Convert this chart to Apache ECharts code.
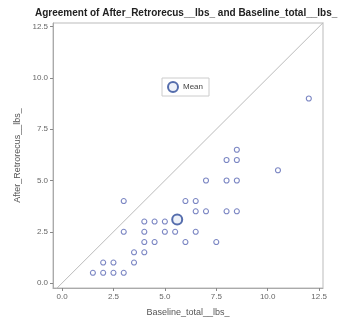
<!DOCTYPE html>
<html>
<head>
<meta charset="utf-8">
<script src="https://cdn.jsdelivr.net/npm/echarts@6/dist/echarts.min.js"></script>
<style>
  html, body { margin: 0; padding: 0; background: #fff; }
  #chart { width: 345px; height: 324px; }
</style>
</head>
<body>
<div id="chart"></div>
<script>
// baseline vs after values (lbs)
var baseline = [1.5, 2, 2.5, 3, 2, 2.5, 3.5, 3.5, 4, 4, 4.5, 6, 7.5, 3, 4, 5, 5.5, 6.5,
  4, 4.5, 5, 6.5, 7, 8, 8.5, 3, 6, 6.5, 7, 8, 8.5, 8, 8.5, 8.5, 10.5, 12];
var after = [0.5, 0.5, 0.5, 0.5, 1, 1, 1, 1.5, 1.5, 2, 2, 2, 2, 2.5, 2.5, 2.5, 2.5, 2.5,
  3, 3, 3, 3.5, 3.5, 3.5, 3.5, 4, 4, 4, 5, 5, 5, 6, 6, 6.5, 5.5, 9];
var meanPoint = [5.6, 3.1];
var tickValues = [0, 2.5, 5, 7.5, 10, 12.5];
var diagEnds = [-1, 14];

var points = baseline.map(function (b, i) {
  return [b, after[i]];
});

var chart = echarts.init(document.getElementById("chart"));

function axisOpt(name, min, max, isY) {
  return {
    type: "value",
    name: name,
    nameLocation: "middle",
    nameGap: isY ? 29 : 20,
    nameTextStyle: { color: "#555", fontSize: 9, fontFamily: "Liberation Sans" },
    min: min,
    max: max,
    splitLine: { show: false },
    axisLine: { show: true, onZero: false, lineStyle: { color: "#aaa" } },
    axisTick: {
      show: true,
      length: 3,
      customValues: tickValues,
      lineStyle: { color: "#888" }
    },
    axisLabel: {
      color: "#666",
      fontSize: 8,
      fontFamily: "Liberation Sans",
      margin: 5,
      customValues: tickValues,
      formatter: function (v) {
        return v.toFixed(1);
      }
    }
  };
}

var option = {
  backgroundColor: "#fff",
  animation: false,
  title: {
    text: "Agreement of After_Retrorecus__lbs_ and Baseline_total__lbs_",
    left: 30,
    top: 3,
    textStyle: { color: "#222", fontSize: 10, fontWeight: "bold", fontFamily: "Liberation Sans" }
  },
  legend: {
    data: [{ name: "Mean", icon: "circle" }],
    left: 162,
    top: 78,
    padding: [3, 6, 3, 5],
    itemWidth: 10,
    itemHeight: 10,
    itemGap: 4,
    borderColor: "#ccc",
    borderWidth: 1,
    textStyle: { color: "#444", fontSize: 8, fontFamily: "Liberation Sans" }
  },
  grid: {
    left: 53,
    right: 22,
    top: 23,
    bottom: 36,
    show: true,
    borderColor: "#bbb",
    borderWidth: 1
  },
  xAxis: axisOpt("Baseline_total__lbs_", -0.44, 12.69, false),
  yAxis: axisOpt("After_Retrorecus__lbs_", -0.24, 12.68, true),
  series: [
    {
      name: "diag",
      type: "line",
      clip: true,
      symbol: "none",
      silent: true,
      lineStyle: { color: "#bbb", width: 1 },
      data: [[diagEnds[0], diagEnds[0]], [diagEnds[1], diagEnds[1]]]
    },
    {
      name: "obs",
      type: "scatter",
      symbol: "circle",
      symbolSize: 5,
      itemStyle: { color: "#fff", borderColor: "#5a68b4", borderWidth: 1.1 },
      data: points
    },
    {
      name: "Mean",
      type: "scatter",
      symbol: "circle",
      symbolSize: 10,
      z: 5,
      itemStyle: { color: "#e8eef8", borderColor: "#2c4a98", borderWidth: 2 },
      data: [meanPoint]
    }
  ]
};

chart.setOption(option);
</script>
</body>
</html>
